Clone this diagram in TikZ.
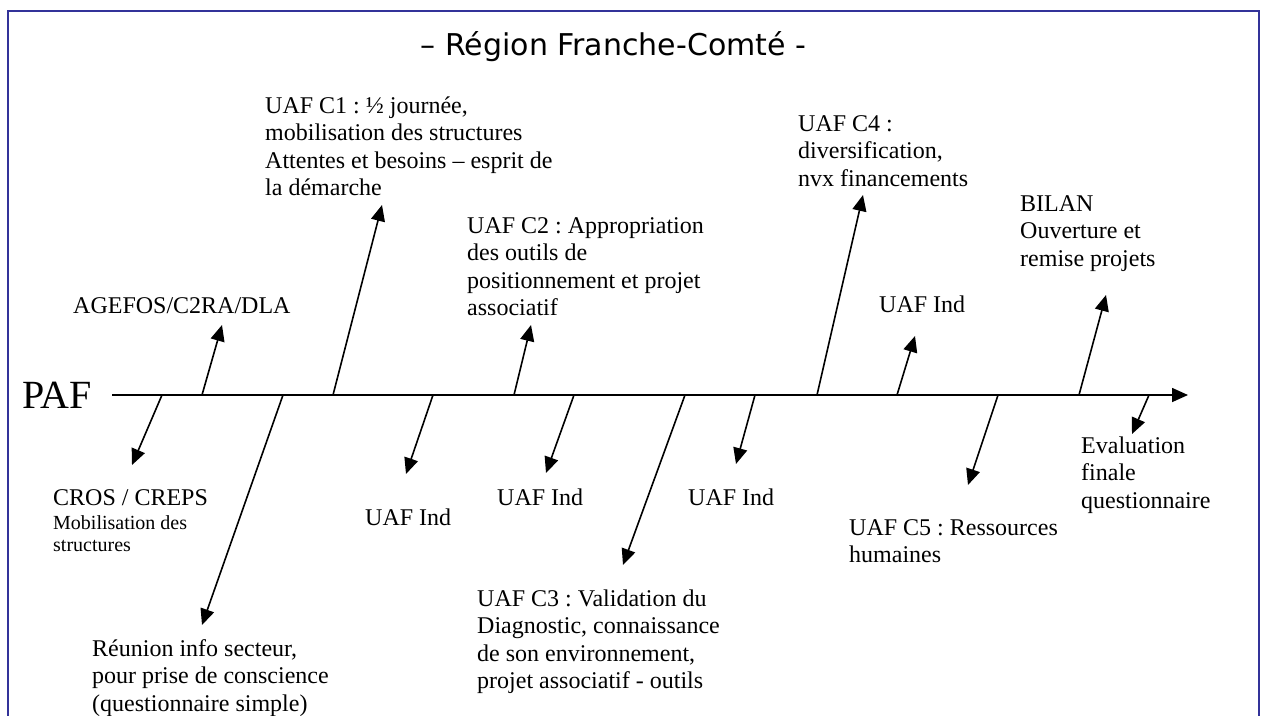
\documentclass[tikz,border=0pt]{standalone}
\usepackage{fontspec}
\setmainfont{Liberation Serif}
\newfontfamily\titlefont{DejaVu Sans}
\usetikzlibrary{arrows.meta}
\definecolor{framecol}{RGB}{51,51,153}
\frenchspacing
\newcommand\mlines[1]{\vtop{\baselineskip=27.5pt\halign{##\hfil\cr#1\crcr}}}
\begin{document}
\begin{tikzpicture}[x=1pt,y=-1pt,
  lbl/.style={inner sep=0pt,anchor=base west,font=\fontsize{24}{27.5}\selectfont},
  arr/.style={line width=1.6pt,-{Triangle[length=16pt,width=14pt]}}]
\useasboundingbox (0,0) rectangle (1261,715);
% frame
\draw[framecol,line width=2pt] (8,716) -- (8,11) -- (1259,11) -- (1259,716);
% title
\node[inner sep=0pt,anchor=base,font=\titlefont\fontsize{30}{36}\selectfont] (title) at (613.5,55) {– Région Franche-Comté -};
% PAF and axis
\node[inner sep=0pt,anchor=base west,font=\fontsize{40}{48}\selectfont] (paf) at (22,408) {PAF};
\coordinate (ax0) at (112,395);
\coordinate (ax1) at (1188,395);
\draw[arr] (ax0) -- (ax1);
% labels above
\node[lbl] (agefos) at (73,313) {AGEFOS/C2RA/DLA};
\node[lbl] (c1) at (265,113) {\mlines{UAF C1 : ½ journée,\cr mobilisation des structures\cr Attentes et besoins – esprit de\cr la démarche}};
\node[lbl] (c2) at (467,233) {\mlines{UAF C2 : Appropriation\cr des outils de\cr positionnement et projet\cr associatif}};
\node[lbl] (c4) at (798,131) {\mlines{UAF C4 :\cr diversification,\cr nvx financements}};
\node[lbl] (indu) at (879,312) {UAF Ind};
\node[lbl] (bilan) at (1020,211) {\mlines{BILAN\cr Ouverture et\cr remise projets}};
% labels below
\node[lbl] (cros) at (53,505) {\vtop{\baselineskip=24pt\hbox{CROS / CREPS}\fontsize{20}{22}\selectfont\baselineskip=24pt\hbox{Mobilisation des}\baselineskip=22pt\hbox{structures}}};
\node[lbl] (reunion) at (92,656) {\mlines{Réunion info secteur,\cr pour prise de conscience\cr (questionnaire simple)}};
\node[lbl] (ind1) at (365,525) {UAF Ind};
\node[lbl] (ind2) at (497,505) {UAF Ind};
\node[lbl] (c3) at (477,606) {\mlines{UAF C3 : Validation du\cr Diagnostic, connaissance\cr de son environnement,\cr projet associatif - outils}};
\node[lbl] (ind3) at (688,505) {UAF Ind};
\node[lbl] (c5) at (849,535) {\mlines{UAF C5 : Ressources\cr humaines}};
\node[lbl] (eval) at (1081,453) {\mlines{Evaluation\cr finale\cr questionnaire}};
% arrow coordinates (tail on axis, tip near label)
\coordinate (agefosA) at (202,395); \coordinate (agefosB) at (222,325);
\coordinate (c1A) at (333,395);     \coordinate (c1B) at (382,205);
\coordinate (c2A) at (514,395);     \coordinate (c2B) at (531,325);
\coordinate (c4A) at (817,395);     \coordinate (c4B) at (863,195);
\coordinate (induA) at (897,395);   \coordinate (induB) at (915,336);
\coordinate (bilanA) at (1079,395); \coordinate (bilanB) at (1106,295);
\coordinate (crosA) at (162,395);   \coordinate (crosB) at (132,465);
\coordinate (reunionA) at (283,395);\coordinate (reunionB) at (202,625);
\coordinate (ind1A) at (433,395);   \coordinate (ind1B) at (406,474);
\coordinate (ind2A) at (574,395);   \coordinate (ind2B) at (546,473);
\coordinate (c3A) at (685,395);     \coordinate (c3B) at (623,565);
\coordinate (ind3A) at (755,395);   \coordinate (ind3B) at (736,464);
\coordinate (c5A) at (998,395);     \coordinate (c5B) at (968,485);
\coordinate (evalA) at (1149,395);  \coordinate (evalB) at (1132,434);
\foreach \n in {agefos,c1,c2,c4,indu,bilan,cros,reunion,ind1,ind2,c3,ind3,c5,eval}
  \draw[arr] (\n A) -- (\n B);
\end{tikzpicture}
\end{document}
